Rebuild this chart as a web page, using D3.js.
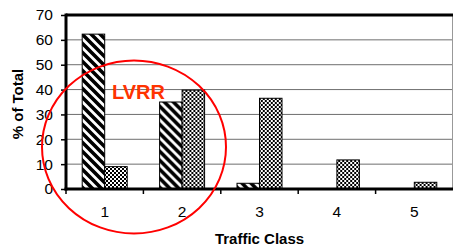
<!DOCTYPE html>
<html>
<head>
<meta charset="utf-8">
<script src="https://cdn.jsdelivr.net/npm/d3@7"></script>
<style>
  body { margin: 0; background: #fff; }
  svg { font-family: "Liberation Sans", Arial, sans-serif; }
</style>
</head>
<body>
<script>
// values
var classes = ["1", "2", "3", "4", "5"];
var series = ["hatch", "checker"];
var hatchValues = [62.3, 35, 2.3, 0, 0];
var checkerValues = [9, 39.8, 36.5, 11.7, 2.7];
var yTicks = [0, 10, 20, 30, 40, 50, 60, 70];

var width = 453, height = 249;
// plot area (window.top is reserved, so no bare "top")
var plotLeft = 66, plotRight = 452.5, plotTop = 15, plotBottom = 189;

var svg = d3.select("body").append("svg")
    .attr("width", width)
    .attr("height", height);

var defs = svg.append("defs");

// diagonal stripes
var hp = defs.append("pattern")
    .attr("id", "hatch")
    .attr("patternUnits", "userSpaceOnUse")
    .attr("width", 9).attr("height", 9);
hp.append("rect").attr("width", 9).attr("height", 9).attr("fill", "#fff");
hp.append("path")
    .attr("d", "M-2,-2 L11,11 M-11,-2 L2,11 M7,-2 L20,11")
    .attr("stroke", "#000").attr("stroke-width", 3.6);

// small checkerboard
var cp = defs.append("pattern")
    .attr("id", "checker")
    .attr("patternUnits", "userSpaceOnUse")
    .attr("width", 4).attr("height", 4);
cp.append("rect").attr("width", 4).attr("height", 4).attr("fill", "#fff");
cp.append("rect").attr("width", 2).attr("height", 2).attr("fill", "#000");
cp.append("rect").attr("x", 2).attr("y", 2).attr("width", 2).attr("height", 2).attr("fill", "#000");

var x = d3.scaleBand().domain(classes).range([plotLeft, 453]);
var xSub = d3.scaleBand().domain(series).range([0, x.bandwidth()]).paddingOuter(0.72);
var y = d3.scaleLinear().domain([0, 70]).range([plotBottom, plotTop]);

// gridlines
svg.append("g").selectAll("line")
    .data(yTicks.slice(1, -1))
    .enter().append("line")
    .attr("x1", plotLeft).attr("x2", plotRight)
    .attr("y1", function(d) { return y(d); })
    .attr("y2", function(d) { return y(d); })
    .attr("stroke", "#6e6e6e").attr("stroke-width", 1);

// right border
svg.append("line")
    .attr("x1", plotRight).attr("x2", plotRight)
    .attr("y1", plotTop).attr("y2", plotBottom)
    .attr("stroke", "#999").attr("stroke-width", 1);

// bars
var rows = classes.map(function(c, i) {
    return [{c: c, s: "hatch", v: hatchValues[i]}, {c: c, s: "checker", v: checkerValues[i]}];
});

svg.append("g").selectAll("g")
    .data(rows)
    .enter().append("g")
    .attr("transform", function(d) { return "translate(" + x(d[0].c) + ",0)"; })
    .selectAll("rect")
    .data(function(d) { return d.filter(function(e) { return e.v > 0; }); })
    .enter().append("rect")
    .attr("x", function(d) { return xSub(d.s); })
    .attr("width", xSub.bandwidth())
    .attr("y", function(d) { return y(d.v); })
    .attr("height", function(d) { return plotBottom - y(d.v); })
    .attr("fill", function(d) { return "url(#" + d.s + ")"; })
    .attr("stroke", "#000").attr("stroke-width", 1);

// y axis
var yAxis = svg.append("g")
    .attr("transform", "translate(" + plotLeft + ",0)")
    .call(d3.axisLeft(y).tickValues(yTicks).tickSize(5).tickPadding(8));
yAxis.select(".domain").remove();
yAxis.selectAll("line").attr("stroke", "#000").attr("stroke-width", 1.5);
yAxis.selectAll("text").attr("font-size", 15.5).attr("fill", "#000")
    .attr("font-family", "'Liberation Sans', Arial, sans-serif");

// x axis labels
var xAxis = svg.append("g")
    .attr("transform", "translate(0," + plotBottom + ")")
    .call(d3.axisBottom(x).tickSize(0).tickPadding(17));
xAxis.select(".domain").remove();
xAxis.selectAll("text").attr("font-size", 15.5).attr("fill", "#000")
    .attr("font-family", "'Liberation Sans', Arial, sans-serif");

// x ticks between classes
svg.append("g").selectAll("line")
    .data(classes)
    .enter().append("line")
    .attr("x1", function(d) { return x(d); })
    .attr("x2", function(d) { return x(d); })
    .attr("y1", plotBottom).attr("y2", plotBottom + 5)
    .attr("stroke", "#000").attr("stroke-width", 1.5);

// thick frame lines
svg.append("line").attr("x1", plotLeft).attr("x2", plotRight + 0.5).attr("y1", plotTop).attr("y2", plotTop)
    .attr("stroke", "#000").attr("stroke-width", 3);
svg.append("line").attr("x1", plotLeft).attr("x2", plotLeft).attr("y1", plotTop - 1.5).attr("y2", plotBottom + 1.5)
    .attr("stroke", "#000").attr("stroke-width", 3);
svg.append("line").attr("x1", plotLeft - 1.5).attr("x2", width).attr("y1", plotBottom).attr("y2", plotBottom)
    .attr("stroke", "#000").attr("stroke-width", 3);

// axis titles
svg.append("text")
    .attr("transform", "translate(23,104) rotate(-90)")
    .attr("text-anchor", "middle")
    .attr("font-size", 15).attr("font-weight", "bold")
    .text("% of Total");

svg.append("text")
    .attr("x", 259.5).attr("y", 244)
    .attr("text-anchor", "middle")
    .attr("font-size", 15).attr("font-weight", "bold")
    .text("Traffic Class");

// LVRR annotation
svg.append("ellipse")
    .attr("cx", 134).attr("cy", 147).attr("rx", 92).attr("ry", 86.5)
    .attr("fill", "none").attr("stroke", "#ff0000").attr("stroke-width", 2);

svg.append("text")
    .attr("x", 112).attr("y", 99)
    .attr("font-size", 20).attr("font-weight", "bold")
    .attr("fill", "#ff3300")
    .text("LVRR");
</script>
</body>
</html>
